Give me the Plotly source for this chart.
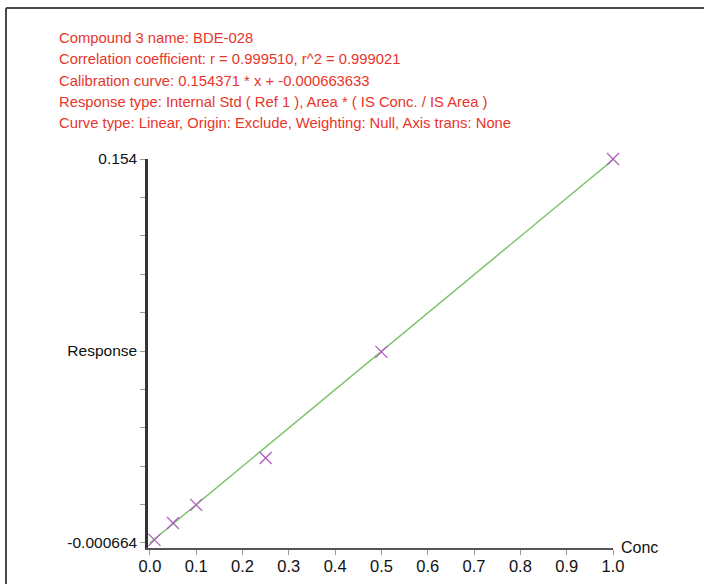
import plotly.graph_objects as go

# ---- data ----
conc = [0.01, 0.05, 0.10, 0.25, 0.50, 1.00]
response = [0.0006, 0.0074, 0.0147, 0.0336, 0.0763, 0.1540]

slope = 0.154371
intercept = -0.000663633
line_x = [0.0, 1.0]

header_lines = [
    "Compound 3 name: BDE-028",
    "Correlation coefficient: r = 0.999510, r^2 = 0.999021",
    "Calibration curve: 0.154371 * x + -0.000663633",
    "Response type: Internal Std ( Ref 1 ), Area * ( IS Conc. / IS Area )",
    "Curve type: Linear, Origin: Exclude, Weighting: Null, Axis trans: None",
]

y_top = 0.154
y_bot = -0.000664
x_ticks = [i / 10 for i in range(11)]
x_ticktext = ["%.1f" % v for v in x_ticks]
y_tickvals = [y_bot + (y_top - y_bot) * i / 10 for i in range(11)]
y_ticktext = ["-0.000664", "", "", "", "", "Response", "", "", "", "", "0.154"]

# ---- layout geometry ----
W, H = 704, 584
L, R, T, B = 148, 91, 159, 36
pw = W - L - R
ph = H - T - B


def px2paper_x(px):
    return (px - L) / pw


def py2paper_y(py):
    return (H - B - py) / ph


fig = go.Figure()

fig.add_trace(go.Scatter(
    x=line_x,
    y=[slope * v + intercept for v in line_x],
    mode="lines",
    line=dict(color="#7cc46c", width=1.5),
    hoverinfo="skip",
    showlegend=False,
    cliponaxis=False,
))

fig.add_trace(go.Scatter(
    x=conc,
    y=response,
    mode="markers",
    marker=dict(symbol="x-thin", size=12, line=dict(color="#b05cc0", width=1.3)),
    showlegend=False,
    cliponaxis=False,
))

text_font = dict(family="Liberation Sans, Arial, sans-serif", size=14.8, color="#e8352b")
line_y_px = [38, 59, 81, 102, 123]
annotations = []
for t, py in zip(header_lines, line_y_px):
    annotations.append(dict(
        text=t, xref="paper", yref="paper",
        x=px2paper_x(57), y=py2paper_y(py),
        xanchor="left", yanchor="middle", showarrow=False,
        font=text_font,
    ))

annotations.append(dict(
    text="Conc", xref="paper", yref="paper",
    x=px2paper_x(619), y=py2paper_y(547),
    xanchor="left", yanchor="middle", showarrow=False,
    font=dict(family="Liberation Sans, Arial, sans-serif", size=16, color="#111"),
))

shapes = [
    dict(type="line", xref="paper", yref="paper",
         x0=px2paper_x(6), y0=py2paper_y(8), x1=px2paper_x(W + 2), y1=py2paper_y(8),
         line=dict(color="#4a4a4a", width=2)),
    dict(type="line", xref="paper", yref="paper",
         x0=px2paper_x(6), y0=py2paper_y(8), x1=px2paper_x(6), y1=py2paper_y(H + 2),
         line=dict(color="#4a4a4a", width=2)),
]

fig.update_layout(
    width=W, height=H,
    margin=dict(l=L, r=R, t=T, b=B, pad=0, autoexpand=False),
    paper_bgcolor="white", plot_bgcolor="white",
    annotations=annotations,
    shapes=shapes,
    xaxis=dict(
        range=[-0.004, 1.0],
        tickvals=x_ticks, ticktext=x_ticktext,
        showgrid=False, zeroline=False, automargin=False,
        showline=True, linecolor="#555555", linewidth=2,
        ticks="outside", ticklen=5, tickcolor="#999999", tickwidth=1,
        ticklabelstandoff=-3,
        tickfont=dict(family="Liberation Sans, Arial, sans-serif", size=16.5, color="#111"),
    ),
    yaxis=dict(
        range=[-0.00268, 0.154],
        tickvals=y_tickvals, ticktext=y_ticktext,
        showgrid=False, zeroline=False, automargin=False,
        showline=True, linecolor="#333333", linewidth=2.5,
        ticks="outside", ticklen=5, tickcolor="#999999", tickwidth=1,
        tickfont=dict(family="Liberation Sans, Arial, sans-serif", size=15.5, color="#111"),
    ),
)

fig.write_html(
    "out.html",
    config={"displayModeBar": False},
    post_script="document.body.style.margin='0';document.body.style.overflow='hidden';",
)
